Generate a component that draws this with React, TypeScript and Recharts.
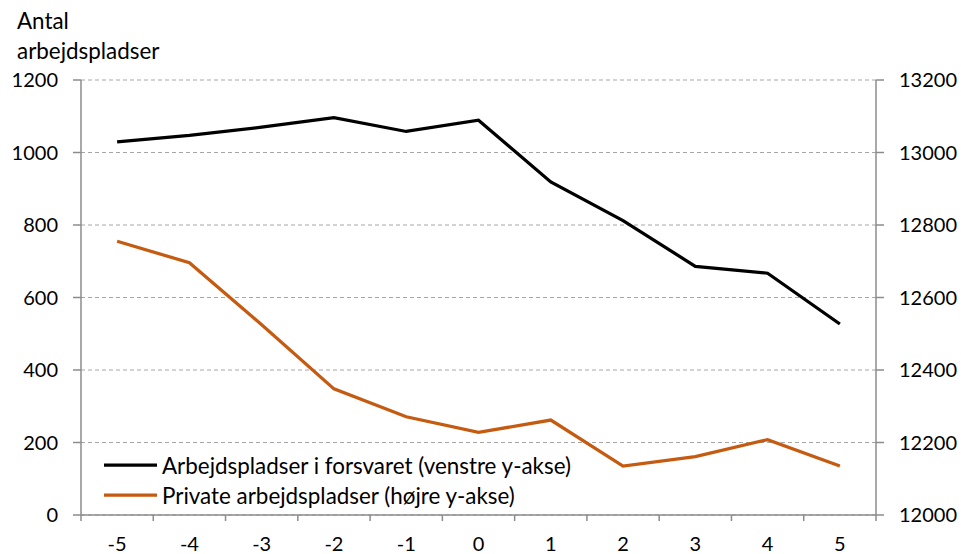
import { ComposedChart, Line, XAxis, YAxis, CartesianGrid, Legend } from "recharts";

// years relative to the closure (x axis)
const years = ["-5", "-4", "-3", "-2", "-1", "0", "1", "2", "3", "4", "5"];
// left axis: jobs in the armed forces
const forsvaret = [1029, 1047, 1070, 1096, 1058, 1089, 919, 812, 686, 667, 527];
// right axis: private jobs
const privat = [12755, 12696, 12525, 12348, 12271, 12228, 12262, 12135, 12161, 12208, 12135];

const leftTicks = [0, 200, 400, 600, 800, 1000, 1200];
const rightTicks = [12000, 12200, 12400, 12600, 12800, 13000, 13200];

const seriesNames = {
  forsvaret: "Arbejdspladser i forsvaret (venstre y-akse)",
  privat: "Private arbejdspladser (højre y-akse)",
};

const data = years.map((x, i) => ({ x, forsvaret: forsvaret[i], privat: privat[i] }));

const FONT = "Lato, 'Open Sans', sans-serif";
const AXIS = "#8c8c8c";
const ORANGE = "#c55a11";
const tickStyle = { fill: "#000", fontSize: 20, fontFamily: FONT };

// category label plus the tick marks on the band edges (Excel style)
function XTick({ x, y, payload, index }: any) {
  const half = payload.offset || 0;
  return (
    <g>
      <line x1={x - half} x2={x - half} y1={y} y2={y + 6} stroke={AXIS} strokeWidth={1.5} />
      {index === years.length - 1 && (
        <line x1={x + half} x2={x + half} y1={y} y2={y + 6} stroke={AXIS} strokeWidth={1.5} />
      )}
      <text x={x} y={y + 22} dy="0.71em" textAnchor="middle" {...tickStyle}>
        {payload.value}
      </text>
    </g>
  );
}

function LegendBox({ payload }: any) {
  return (
    <div style={{ fontFamily: FONT, fontSize: 22.4, color: "#000" }}>
      {(payload || []).map((p: any) => (
        <div key={p.value} style={{ display: "flex", alignItems: "center", height: 30 }}>
          <svg width={58} height={30}>
            <line x1={0} x2={53} y1={15} y2={15} stroke={p.color} strokeWidth={3.25} />
          </svg>
          <span>{p.value}</span>
        </div>
      ))}
    </div>
  );
}

export default function App() {
  return (
    <div style={{ position: "absolute", left: 0, top: 0, width: 961, height: 554, background: "#fff", fontFamily: FONT }}>
      <div style={{ position: "absolute", left: 17, top: 6, fontSize: 22.4, lineHeight: "30px", color: "#000" }}>
        Antal
        <br />
        arbejdspladser
      </div>
      <ComposedChart width={961} height={554} data={data} margin={{ top: 80, right: 0, bottom: 0, left: 0 }}>
        <CartesianGrid vertical={false} stroke="#a6a6a6" strokeDasharray="4 3" yAxisId="l" />
        <XAxis
          xAxisId="cat"
          dataKey="x"
          type="category"
          scale="band"
          height={39}
          stroke={AXIS}
          strokeWidth={1.5}
          tickLine={false}
          tickSize={0}
          tickMargin={0}
          tick={<XTick />}
          interval={0}
        />
        <YAxis
          yAxisId="l"
          domain={[0, 1200]}
          ticks={leftTicks}
          width={81}
          tickSize={8}
          tickMargin={15}
          stroke={AXIS}
          strokeWidth={1.5}
          tick={tickStyle}
        />
        <YAxis
          yAxisId="r"
          orientation="right"
          domain={[12000, 13200]}
          ticks={rightTicks}
          width={85}
          tickSize={8}
          tickMargin={15}
          stroke={AXIS}
          strokeWidth={1.5}
          tick={tickStyle}
        />
        <Legend
          layout="vertical"
          align="center"
          verticalAlign="middle"
          content={<LegendBox />}
          wrapperStyle={{ position: "absolute", left: 104, top: 450, width: "auto" }}
        />
        <Line
          xAxisId="cat"
          yAxisId="l"
          dataKey="forsvaret"
          name={seriesNames.forsvaret}
          stroke="#000"
          strokeWidth={3.25}
          dot={false}
          type="linear"
          isAnimationActive={false}
        />
        <Line
          xAxisId="cat"
          yAxisId="r"
          dataKey="privat"
          name={seriesNames.privat}
          stroke={ORANGE}
          strokeWidth={3.25}
          dot={false}
          type="linear"
          isAnimationActive={false}
        />
      </ComposedChart>
    </div>
  );
}
